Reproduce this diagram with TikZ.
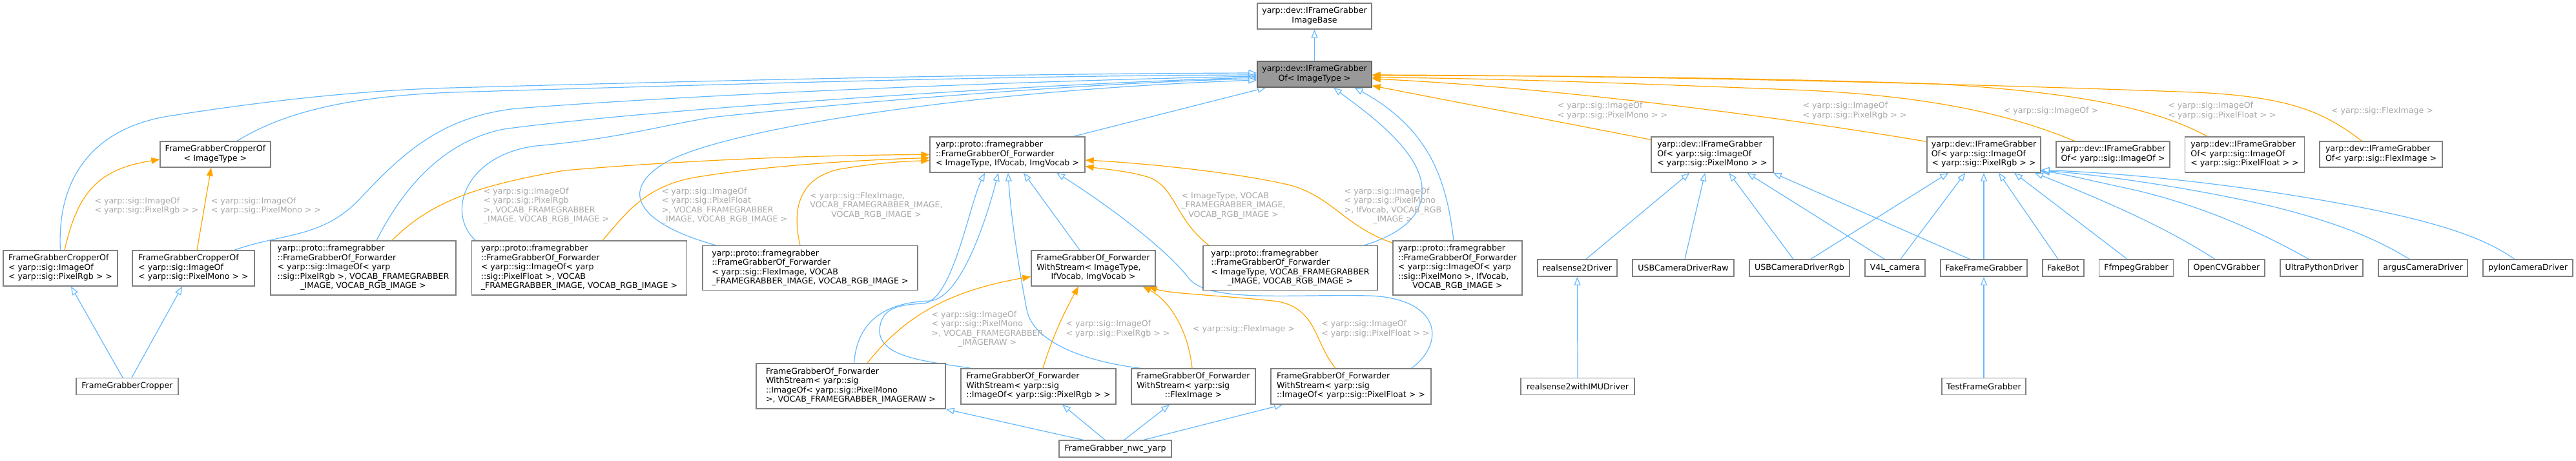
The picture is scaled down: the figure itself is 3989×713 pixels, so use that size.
\documentclass[tikz,border=0pt]{standalone}
\usepackage{fontspec}
\setmainfont{DejaVu Sans}
\usetikzlibrary{arrows.meta,backgrounds}
\definecolor{inhblue}{HTML}{63B8FF}
\definecolor{tmplorange}{HTML}{FFA500}
\definecolor{boxgray}{HTML}{808080}
\definecolor{lblgray}{HTML}{A8A8A8}
\definecolor{mainfill}{HTML}{999999}
\definecolor{mainedge}{HTML}{666666}
\newcommand{\nodelines}[2]{\begin{tabular}{@{}l@{}}#1\\\multicolumn{1}{@{}c@{}}{#2}\end{tabular}}
\begin{document}
\begin{tikzpicture}[x=1pt,y=-1pt,
  font=\fontsize{12.6}{14.5}\selectfont,
  cls/.style={draw=boxgray, line width=1.4pt, fill=white, rectangle, inner sep=0pt, text=black},
  sz/.style 2 args={minimum width=#1pt, minimum height=#2pt},
  lbl/.style={text=lblgray, inner sep=0pt},
  inh/.style={draw=inhblue, line width=1.2pt, -{Triangle[length=13pt,width=10pt,fill=white]}},
  tpl/.style={draw=tmplorange, line width=1.2pt, -{Triangle[length=13pt,width=10pt]}}]
\useasboundingbox (0,0) rectangle (3989,713);
% rank 0/1
\node[cls, sz={177}{40}] (base) at (2035.5,25) {\nodelines{yarp::dev::IFrameGrabber}{ImageBase}};
\node[cls, sz={177}{40}, fill=mainfill, draw=mainedge] (main) at (2035.5,115) {\nodelines{yarp::dev::IFrameGrabber}{Of< ImageType >}};
% rank 2
\node[cls, sz={171}{40}] (cropT) at (333.5,239) {\nodelines{FrameGrabberCropperOf}{< ImageType >}};
\node[cls, sz={240}{55}] (fwdT) at (1560,239.5) {\nodelines{yarp::proto::framegrabber\\::FrameGrabberOf\_Forwarder}{< ImageType, IfVocab, ImgVocab >}};
\node[cls, sz={189}{55}] (ifgMono) at (2651.5,239.5) {\nodelines{yarp::dev::IFrameGrabber\\Of< yarp::sig::ImageOf}{< yarp::sig::PixelMono > >}};
\node[cls, sz={176}{55}] (ifgRgb) at (3072,239.5) {\nodelines{yarp::dev::IFrameGrabber\\Of< yarp::sig::ImageOf}{< yarp::sig::PixelRgb > >}};
\node[cls, sz={176}{40}] (ifgImg) at (3272,239) {\nodelines{yarp::dev::IFrameGrabber}{Of< yarp::sig::ImageOf >}};
\node[cls, sz={185}{55}] (ifgFloat) at (3476,239.5) {\nodelines{yarp::dev::IFrameGrabber\\Of< yarp::sig::ImageOf}{< yarp::sig::PixelFloat > >}};
\node[cls, sz={190}{40}] (ifgFlex) at (3687,239) {\nodelines{yarp::dev::IFrameGrabber}{Of< yarp::sig::FlexImage >}};
% rank 3
\node[cls, sz={177}{55}] (cropRgb) at (93.5,415.5) {\nodelines{FrameGrabberCropperOf\\< yarp::sig::ImageOf}{< yarp::sig::PixelRgb > >}};
\node[cls, sz={189}{55}] (cropMono) at (299.5,415.5) {\nodelines{FrameGrabberCropperOf\\< yarp::sig::ImageOf}{< yarp::sig::PixelMono > >}};
\node[cls, sz={287}{84}] (fwdRgb) at (562.5,415) {\nodelines{yarp::proto::framegrabber\\::FrameGrabberOf\_Forwarder\\< yarp::sig::ImageOf< yarp\\::sig::PixelRgb >, VOCAB\_FRAMEGRABBER}{\_IMAGE, VOCAB\_RGB\_IMAGE >}};
\node[cls, sz={333}{84}] (fwdFloat) at (897,415) {\nodelines{yarp::proto::framegrabber\\::FrameGrabberOf\_Forwarder\\< yarp::sig::ImageOf< yarp\\::sig::PixelFloat >, VOCAB}{\_FRAMEGRABBER\_IMAGE, VOCAB\_RGB\_IMAGE >}};
\node[cls, sz={333}{69}] (fwdFlex) at (1254.5,415) {\nodelines{yarp::proto::framegrabber\\::FrameGrabberOf\_Forwarder\\< yarp::sig::FlexImage, VOCAB}{\_FRAMEGRABBER\_IMAGE, VOCAB\_RGB\_IMAGE >}};
\node[cls, sz={192}{55}] (wsT) at (1693,415.5) {\nodelines{FrameGrabberOf\_Forwarder\\WithStream< ImageType,}{IfVocab, ImgVocab >}};
\node[cls, sz={270}{69}] (fwdTV) at (1998,415) {\nodelines{yarp::proto::framegrabber\\::FrameGrabberOf\_Forwarder\\< ImageType, VOCAB\_FRAMEGRABBER}{\_IMAGE, VOCAB\_RGB\_IMAGE >}};
\node[cls, sz={200}{84}] (fwdMonoIf) at (2257,415) {\nodelines{yarp::proto::framegrabber\\::FrameGrabberOf\_Forwarder\\< yarp::sig::ImageOf< yarp\\::sig::PixelMono >, IfVocab,}{VOCAB\_RGB\_IMAGE >}};
\node[cls, sz={123}{26}] (rs2) at (2442.5,415) {realsense2Driver};
\node[cls, sz={157}{26}] (usbRaw) at (2606.5,415) {USBCameraDriverRaw};
\node[cls, sz={155}{26}] (usbRgb) at (2786.5,415) {USBCameraDriverRgb};
\node[cls, sz={93}{26}] (v4l) at (2934.5,415) {V4L\_camera};
\node[cls, sz={134}{26}] (fake) at (3072,415) {FakeFrameGrabber};
\node[cls, sz={64}{26}] (fakebot) at (3195,415) {FakeBot};
\node[cls, sz={115}{26}] (ffmpeg) at (3308,415) {FfmpegGrabber};
\node[cls, sz={118}{26}] (opencv) at (3448,415) {OpenCVGrabber};
\node[cls, sz={128}{26}] (ultra) at (3595,415) {UltraPythonDriver};
\node[cls, sz={138}{26}] (argus) at (3752,415) {argusCameraDriver};
\node[cls, sz={139}{26}] (pylon) at (3914.5,415) {pylonCameraDriver};
% rank 4
\node[cls, sz={158}{26}] (cropper) at (197,598.5) {FrameGrabberCropper};
\node[cls, sz={293}{70}] (wsMono) at (1317.5,598) {\nodelines{FrameGrabberOf\_Forwarder\\WithStream< yarp::sig\\::ImageOf< yarp::sig::PixelMono}{>, VOCAB\_FRAMEGRABBER\_IMAGERAW >}};
\node[cls, sz={240}{55}] (wsRgb) at (1608,598.5) {\nodelines{FrameGrabberOf\_Forwarder\\WithStream< yarp::sig}{::ImageOf< yarp::sig::PixelRgb > >}};
\node[cls, sz={192}{55}] (wsFlex) at (1848,598.5) {\nodelines{FrameGrabberOf\_Forwarder\\WithStream< yarp::sig}{::FlexImage >}};
\node[cls, sz={248}{55}] (wsFloat) at (2092,598.5) {\nodelines{FrameGrabberOf\_Forwarder\\WithStream< yarp::sig}{::ImageOf< yarp::sig::PixelFloat > >}};
\node[cls, sz={176}{26}] (rs2imu) at (2443,598.5) {realsense2withIMUDriver};
\node[cls, sz={130}{26}] (testfg) at (3072,598.5) {TestFrameGrabber};
% rank 5
\node[cls, sz={174}{26}] (nwc) at (1727,695) {FrameGrabber\_nwc\_yarp};
% labels
\node[lbl] (lab1) at (227,319.5) {\nodelines{< yarp::sig::ImageOf}{< yarp::sig::PixelRgb > >}};
\node[lbl] (lab2) at (412,319.5) {\nodelines{< yarp::sig::ImageOf}{< yarp::sig::PixelMono > >}};
\node[lbl] (lab3) at (846,319) {\nodelines{< yarp::sig::ImageOf\\< yarp::sig::PixelRgb\\ >, VOCAB\_FRAMEGRABBER}{\_IMAGE, VOCAB\_RGB\_IMAGE >}};
\node[lbl] (lab4) at (1122,319) {\nodelines{< yarp::sig::ImageOf\\< yarp::sig::PixelFloat\\ >, VOCAB\_FRAMEGRABBER}{\_IMAGE, VOCAB\_RGB\_IMAGE >}};
\node[lbl] (lab5) at (1357,319) {\nodelines{< yarp::sig::FlexImage,\\VOCAB\_FRAMEGRABBER\_IMAGE,}{VOCAB\_RGB\_IMAGE >}};
\node[lbl] (lab6) at (1910,319) {\nodelines{< ImageType, VOCAB\\\_FRAMEGRABBER\_IMAGE,}{VOCAB\_RGB\_IMAGE >}};
\node[lbl] (lab7) at (2157,319) {\nodelines{< yarp::sig::ImageOf\\< yarp::sig::PixelMono\\ >, IfVocab, VOCAB\_RGB}{\_IMAGE >}};
\node[lbl] (lab8) at (1529,510) {\nodelines{< yarp::sig::ImageOf\\< yarp::sig::PixelMono\\ >, VOCAB\_FRAMEGRABBER}{\_IMAGERAW >}};
\node[lbl] (lab9) at (1731,510) {\nodelines{< yarp::sig::ImageOf}{< yarp::sig::PixelRgb > >}};
\node[lbl] (lab10) at (1926,510) {< yarp::sig::FlexImage >};
\node[lbl] (lab11) at (2130,510) {\nodelines{< yarp::sig::ImageOf}{< yarp::sig::PixelFloat > >}};
\node[lbl] (lab12) at (2497,172) {\nodelines{< yarp::sig::ImageOf}{< yarp::sig::PixelMono > >}};
\node[lbl] (lab13) at (2872,172) {\nodelines{< yarp::sig::ImageOf}{< yarp::sig::PixelRgb > >}};
\node[lbl] (lab14) at (3176,172) {< yarp::sig::ImageOf >};
\node[lbl] (lab15) at (3441,172) {\nodelines{< yarp::sig::ImageOf}{< yarp::sig::PixelFloat > >}};
\node[lbl] (lab16) at (3689,172) {< yarp::sig::FlexImage >};
\begin{scope}[on background layer]
% ---- inheritance (blue)
\draw[inh] (main.north) -- (base.south);
\draw[inh] ([xshift=33.5pt]cropT.north) .. controls (430,180) and (520,150) .. (700,143) .. controls (1200,128) and (1600,117) .. ([yshift=-1pt]main.west);
\draw[inh] (cropRgb.north) .. controls (88,280) and (140,200) .. (260,180) .. controls (400,158) and (550,140) .. (700,136) .. controls (1200,122) and (1600,114) .. ([yshift=2pt]main.west);
\draw[inh] ([xshift=63.5pt]cropMono.north) .. controls (440,360) and (500,370) .. (560,305) .. controls (630,230) and (690,180) .. (800,168) .. controls (1100,145) and (1600,125) .. ([yshift=-3pt]main.west);
\draw[inh] ([xshift=20.5pt]fwdRgb.north) .. controls (620,300) and (680,220) .. (780,200) .. controls (1000,170) and (1600,130) .. ([yshift=-5pt]main.west);
\draw[inh] ([xshift=6.5pt]fwdFloat.north west) .. controls (690,330) and (720,240) .. (830,226) .. controls (950,215) and (1000,200) .. (1100,182) .. controls (1400,150) and (1750,126) .. ([yshift=-7pt]main.west);
\draw[inh] ([xshift=21pt]fwdFlex.north west) .. controls (1000,350) and (950,300) .. (1030,252) .. controls (1120,200) and (1500,140) .. ([yshift=-9pt]main.west);
\draw[inh] ([xshift=102pt]fwdT.north) -- ([xshift=14pt]main.south west);
\draw[inh] ([xshift=-21pt]fwdTV.north east) .. controls (2160,365) and (2205,340) .. (2202,290) .. controls (2198,230) and (2110,170) .. ([xshift=29.5pt]main.south);
\draw[inh] ([xshift=-6pt]fwdMonoIf.north) .. controls (2240,280) and (2215,200) .. ([xshift=62pt]main.south);
% into fwdT
\draw[inh] ([xshift=5pt]wsMono.north) .. controls (1328,490) and (1380,468) .. (1440,466) .. controls (1490,462) and (1530,330) .. ([xshift=-14pt]fwdT.south);
\draw[inh] ([xshift=16pt]wsRgb.north west) .. controls (1440,560) and (1360,555) .. (1362,510) .. controls (1365,475) and (1395,472) .. (1430,470) .. controls (1475,466) and (1500,320) .. ([xshift=-35pt]fwdT.south);
\draw[inh] ([xshift=15pt]wsFlex.north west) .. controls (1680,560) and (1600,530) .. (1590,480) .. controls (1575,400) and (1565,330) .. ([xshift=1pt]fwdT.south);
\draw[inh] ([xshift=-21pt]wsT.north) -- ([xshift=25pt]fwdT.south);
\draw[inh] ([xshift=-31pt]wsFloat.north east) .. controls (2240,530) and (2230,462) .. (2120,458) .. controls (2000,455) and (1870,470) .. (1840,430) .. controls (1810,390) and (1720,320) .. ([xshift=76pt]fwdT.south);
% nwc
\draw[inh] ([xshift=-50pt]nwc.north) -- (wsMono.south east);
\draw[inh] ([xshift=-16pt]nwc.north) -- ([xshift=37pt]wsRgb.south);
\draw[inh] ([xshift=14pt]nwc.north) -- ([xshift=-37pt]wsFlex.south);
\draw[inh] ([xshift=44pt]nwc.north) -- ([xshift=19pt]wsFloat.south west);
% cropper
\draw[inh] ([xshift=-7pt]cropper.north) -- ([xshift=16.5pt]cropRgb.south);
\draw[inh] ([xshift=7pt]cropper.north) -- ([xshift=-17.5pt]cropMono.south);
% verticals
\draw[inh] (rs2imu.north) -- (rs2.south);
\draw[inh] (testfg.north) -- (fake.south);
% drivers -> Mono
\draw[inh] ([xshift=13.5pt]rs2.north) -- ([xshift=60pt]ifgMono.south west);
\draw[inh] ([xshift=2.5pt]usbRaw.north) -- ([xshift=84pt]ifgMono.south west);
\draw[inh] ([xshift=-9.5pt]usbRgb.north) -- ([xshift=121pt]ifgMono.south west);
\draw[inh] ([xshift=-16.5pt]v4l.north) -- ([xshift=149pt]ifgMono.south west);
\draw[inh] ([xshift=-22pt]fake.north) -- ([xshift=-1pt]ifgMono.south east);
% drivers -> Rgb
\draw[inh] ([xshift=17.5pt]usbRgb.north) -- ([xshift=34pt]ifgRgb.south west);
\draw[inh] ([xshift=8.5pt]v4l.north) -- ([xshift=60pt]ifgRgb.south west);
\draw[inh] (fake.north) -- (ifgRgb.south);
\draw[inh] ([xshift=-8pt]fakebot.north) -- ([xshift=23pt]ifgRgb.south);
\draw[inh] ([xshift=-14pt]ffmpeg.north) -- ([xshift=47pt]ifgRgb.south);
\draw[inh] ([xshift=-18pt]opencv.north) .. controls (3380,370) and (3320,335) .. ([xshift=-10pt]ifgRgb.south east);
\draw[inh] ([xshift=-20pt]ultra.north) .. controls (3520,370) and (3420,320) .. (3300,293) .. controls (3230,278) and (3190,268) .. ([yshift=2pt]ifgRgb.south east);
\draw[inh] ([xshift=-21pt]argus.north) .. controls (3680,370) and (3620,345) .. (3520,320) .. controls (3400,292) and (3250,270) .. ([yshift=3.5pt]ifgRgb.south east);
\draw[inh] ([xshift=-21pt]pylon.north) .. controls (3850,370) and (3780,345) .. (3650,320) .. controls (3450,282) and (3280,268) .. ([yshift=4.5pt]ifgRgb.south east);
% ---- template instantiation (orange)
\draw[tpl] ([xshift=6.5pt]cropRgb.north) .. controls (120,300) and (150,262) .. ([yshift=-8pt]cropT.west);
\draw[tpl] ([xshift=5.5pt]cropMono.north) -- ([xshift=-6.5pt]cropT.south);
\draw[tpl] ([xshift=44.5pt]fwdRgb.north) .. controls (660,320) and (720,290) .. (874,264) .. controls (1100,245) and (1300,240) .. (fwdT.west);
\draw[tpl] ([xshift=36pt]fwdFloat.north) .. controls (970,330) and (1000,285) .. (1087,273) .. controls (1200,255) and (1350,247) .. ([yshift=-5pt]fwdT.west);
\draw[tpl] ([xshift=-15.5pt]fwdFlex.north) .. controls (1225,320) and (1240,275) .. (1300,262) .. controls (1360,252) and (1400,250) .. ([yshift=-9pt]fwdT.west);
\draw[tpl] ([xshift=9.5pt]fwdTV.north west) .. controls (1820,340) and (1820,290) .. (1780,275) .. controls (1750,265) and (1710,262) .. ([yshift=-18pt]fwdT.east);
\draw[tpl] ([yshift=-4pt]fwdMonoIf.north west) .. controls (2080,350) and (2060,300) .. (1990,285) .. controls (1900,265) and (1760,252) .. ([yshift=-8.5pt]fwdT.east);
\draw[tpl] ([xshift=25.5pt]wsMono.north) .. controls (1400,490) and (1470,450) .. ([yshift=-13pt]wsT.west);
\draw[tpl] ([xshift=7pt]wsRgb.north) .. controls (1630,520) and (1650,480) .. ([xshift=-23pt]wsT.south);
\draw[tpl] ([xshift=-2pt]wsFlex.north) .. controls (1840,510) and (1810,465) .. ([xshift=-20pt]wsT.south east);
\draw[tpl] ([xshift=-24pt]wsFloat.north) .. controls (2035,530) and (2040,480) .. (1980,467) .. controls (1900,458) and (1810,455) .. ([xshift=-11pt]wsT.south east);
\draw[tpl] ([yshift=-5pt]ifgMono.north west) -- ([yshift=3pt]main.south east);
\draw[tpl] ([yshift=-8pt]ifgRgb.north west) .. controls (2750,180) and (2400,135) .. ([yshift=-7pt]main.east);
\draw[tpl] ([xshift=29pt]ifgImg.north west) .. controls (3120,180) and (3000,150) .. (2800,140) .. controls (2500,128) and (2300,121) .. ([yshift=-5pt]main.east);
\draw[tpl] ([xshift=35.5pt]ifgFloat.north west) .. controls (3350,175) and (3250,145) .. (3000,130) .. controls (2700,120) and (2400,117) .. ([yshift=-2pt]main.east);
\draw[tpl] ([xshift=66pt]ifgFlex.north west) .. controls (3600,175) and (3550,150) .. (3400,143) .. controls (3000,128) and (2500,117) .. ([yshift=-1pt]main.east);
\end{scope}
\end{tikzpicture}
\end{document}
